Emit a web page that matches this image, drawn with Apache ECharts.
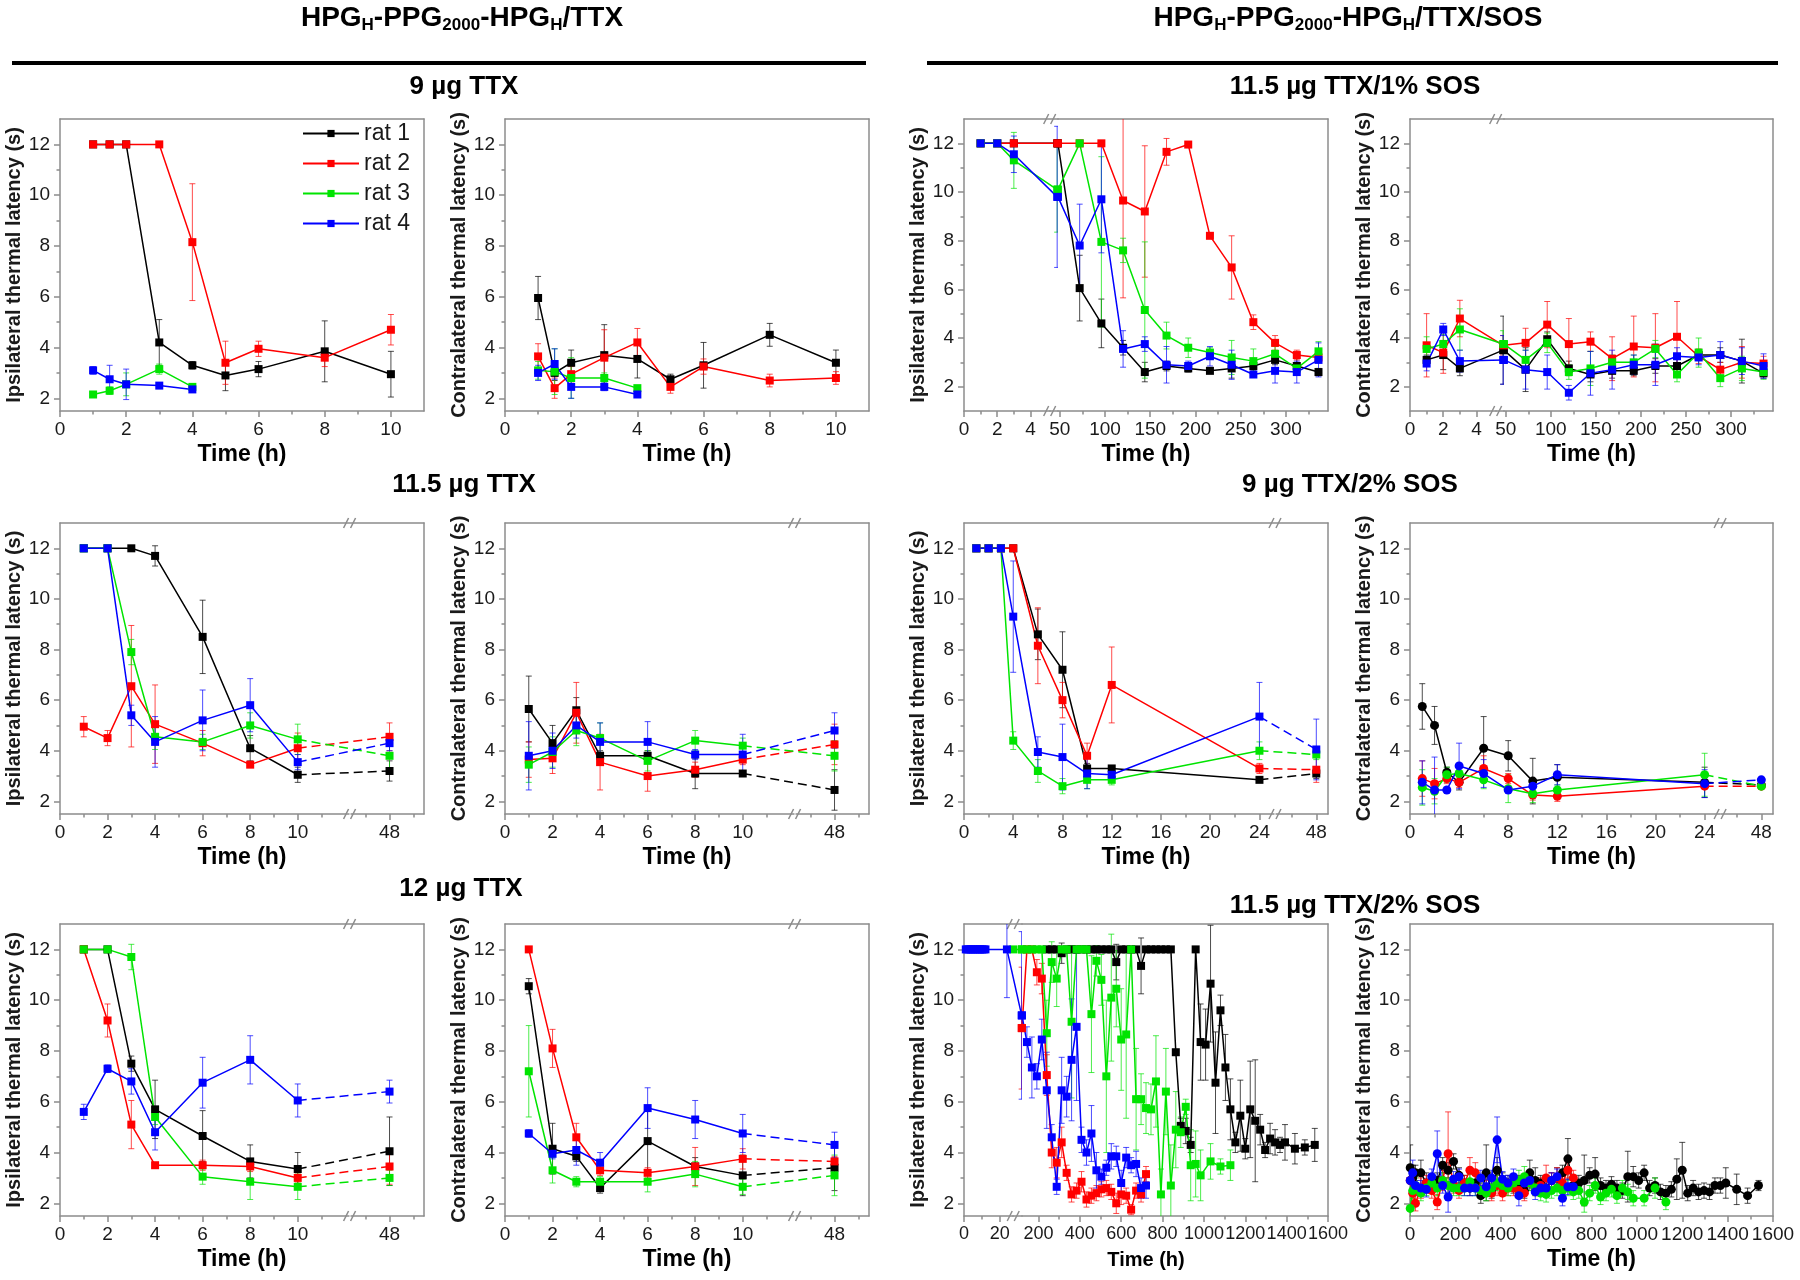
<!DOCTYPE html>
<html>
<head>
<meta charset="utf-8">
<script src="https://cdn.jsdelivr.net/npm/echarts@6.0.0/dist/echarts.min.js"></script>
<style>
  html, body { margin: 0; padding: 0; background: #fff; }
  #chart { width: 1800px; height: 1280px; }
</style>
</head>
<body>
<div id="chart"></div>
<script>
"use strict";

const FONT = "'Liberation Sans', Arial, Helvetica, sans-serif";
const GRAY = "#8c8c8c";
const INK = "#1a1a1a";
const RAT_NAMES = ["rat 1", "rat 2", "rat 3", "rat 4"];
const RAT_COLORS = ["#000000", "#ff0000", "#00e400", "#0000ff"];
const IPSI = "Ipsilateral thermal latency (s)";
const CONTRA = "Contralateral thermal latency (s)";

// ---- 9 µg TTX ----
const t9 = [1, 1.5, 2, 3, 4, 5, 6, 8, 10];
const ipsi9R1 = [12, 12, 12, 4.2, 3.3, 2.9, 3.15, 3.85, 2.95];
const ipsi9E1 = [0, 0, 0, 0.9, 0.15, 0.6, 0.3, 1.2, 0.9];
const ipsi9R2 = [12, 12, 12, 12, 8.15, 3.4, 3.95, 3.6, 4.7];
const ipsi9E2 = [0, 0, 0, 0, 2.3, 0.85, 0.3, 0.35, 0.6];
const ipsi9R3 = [2.15, 2.3, 2.55, 3.15, 2.45];
const ipsi9E3 = [0.1, 0.15, 0.45, 0.2, 0.1];
const ipsi9R4 = [3.1, 2.75, 2.55, 2.5, 2.35];
const ipsi9E4 = [0.15, 0.55, 0.6, 0.1, 0.1];
const contra9R1 = [5.95, 3.0, 3.4, 3.7, 3.55, 2.75, 3.3, 4.5, 3.4];
const contra9E1 = [0.85, 0.3, 0.5, 1.2, 0.75, 0.2, 0.9, 0.45, 0.5];
const contra9R2 = [3.65, 2.4, 2.95, 3.6, 4.2, 2.45, 3.25, 2.7, 2.8];
const contra9E2 = [0.5, 0.4, 0.3, 1.1, 0.55, 0.25, 0.3, 0.25, 0.25];
const contra9R3 = [3.1, 3.05, 2.8, 2.8, 2.4];
const contra9E3 = [0.35, 0.9, 0.8, 0.2, 0.1];
const contra9R4 = [3.0, 3.35, 2.45, 2.45, 2.15];
const contra9E4 = [0.3, 0.6, 0.45, 0.15, 0.1];

// ---- 11.5 µg TTX ----
const t115 = [1, 2, 3, 4, 6, 8, 10, 48];
const ipsi115R1 = [12, 12, 12, 11.7, 8.5, 4.1, 3.05, 3.2];
const ipsi115E1 = [0, 0, 0, 0.4, 1.45, 0.5, 0.3, 0.4];
const ipsi115R2 = [4.95, 4.5, 6.55, 5.05, 4.3, 3.45, 4.1, 4.55];
const ipsi115E2 = [0.4, 0.3, 2.4, 1.55, 0.5, 0.1, 0.6, 0.55];
const ipsi115R3 = [12, 12, 7.9, 4.55, 4.35, 5.0, 4.45, 3.8];
const ipsi115E3 = [0, 0, 0.5, 0.5, 0.3, 0.5, 0.6, 0.5];
const ipsi115R4 = [12, 12, 5.4, 4.35, 5.2, 5.8, 3.55, 4.3];
const ipsi115E4 = [0, 0, 0.4, 1.0, 1.2, 1.05, 0.3, 0.3];
const contra115R1 = [5.65, 4.3, 5.6, 3.8, 3.8, 3.1, 3.1, 2.45];
const contra115E1 = [1.3, 0.7, 0.5, 0.2, 0.2, 0.6, 0.1, 0.8];
const contra115R2 = [3.65, 3.7, 5.5, 3.55, 3.0, 3.25, 3.65, 4.25];
const contra115E2 = [0.7, 0.6, 1.2, 1.1, 0.6, 0.3, 0.2, 0.8];
const contra115R3 = [3.45, 3.95, 4.8, 4.5, 3.6, 4.4, 4.2, 3.8];
const contra115E3 = [0.7, 0.6, 0.6, 0.6, 0.4, 0.4, 0.3, 0.6];
const contra115R4 = [3.8, 4.0, 5.0, 4.35, 4.35, 3.85, 3.85, 4.8];
const contra115E4 = [1.35, 0.7, 0.5, 0.75, 0.8, 0.2, 0.8, 0.7];

// ---- 12 µg TTX ----
const t12 = [1, 2, 3, 4, 6, 8, 10, 48];
const ipsi12R1 = [12, 12, 7.5, 5.7, 4.65, 3.65, 3.35, 4.05];
const ipsi12E1 = [0, 0, 0.3, 1.15, 1.0, 0.65, 0.65, 1.35];
const ipsi12R2 = [12, 9.2, 5.1, 3.5, 3.5, 3.45, 3.0, 3.45];
const ipsi12E2 = [0, 0.65, 0.95, 0.1, 0.2, 0.2, 0.2, 0.7];
const ipsi12R3 = [12, 12, 11.7, 5.4, 3.05, 2.85, 2.65, 3.0];
const ipsi12E3 = [0, 0, 0.5, 0.3, 0.3, 0.7, 0.5, 0.3];
const ipsi12R4 = [5.6, 7.3, 6.8, 4.8, 6.75, 7.65, 6.05, 6.4];
const ipsi12E4 = [0.3, 0.15, 0.5, 0.7, 1.0, 0.95, 0.65, 0.45];
const contra12R1 = [10.55, 4.15, 3.85, 2.6, 4.45, 3.45, 3.1, 3.4];
const contra12E1 = [0.3, 1.0, 0.2, 0.2, 1.2, 0.35, 0.8, 0.9];
const contra12R2 = [12, 8.1, 4.6, 3.3, 3.2, 3.45, 3.75, 3.65];
const contra12E2 = [0.1, 0.75, 0.55, 0.2, 0.2, 0.75, 0.4, 0.2];
const contra12R3 = [7.2, 3.3, 2.85, 2.85, 2.85, 3.15, 2.65, 3.1];
const contra12E3 = [1.8, 0.5, 0.2, 0.2, 0.4, 0.5, 0.3, 0.8];
const contra12R4 = [4.75, 3.95, 4.1, 3.6, 5.75, 5.3, 4.75, 4.3];
const contra12E4 = [0.15, 0.2, 0.6, 0.4, 0.8, 0.75, 0.75, 0.5];

// ---- 11.5 µg TTX / 1% SOS ----
const tSos1 = [1, 2, 3, 48, 72, 96, 120, 144, 168, 192, 216, 240, 264, 288, 312, 336];
const ipsiSos1R1 = [12, 12, 12, 12, 6.05, 4.6, 3.6, 2.6, 2.85, 2.75, 2.65, 2.75, 2.85, 3.1, 2.85, 2.6];
const ipsiSos1E1 = [0, 0, 0, 0, 1.35, 1.0, 0.3, 0.4, 0.2, 0.15, 0.1, 0.4, 0.2, 0.2, 0.3, 0.15];
const ipsiSos1R2 = [12, 12, 12, 12, 12, 12, 9.65, 9.2, 11.65, 11.95, 8.2, 6.9, 4.65, 3.8, 3.3, 3.2];
const ipsiSos1E2 = [0, 0, 0, 0, 0, 0, 4.0, 2.7, 0.55, 0.1, 0.1, 1.3, 0.3, 0.3, 0.2, 0.2];
const ipsiSos1R3 = [12, 12, 11.3, 10.1, 12, 7.95, 7.6, 5.15, 4.1, 3.6, 3.4, 3.2, 3.05, 3.35, 2.75, 3.45];
const ipsiSos1E3 = [0, 0, 1.15, 1.75, 0, 3.5, 0.5, 2.8, 0.55, 0.4, 0.2, 0.7, 0.5, 0.3, 0.2, 0.4];
const ipsiSos1R4 = [12, 12, 11.55, 9.8, 7.8, 9.7, 3.55, 3.75, 2.9, 2.85, 3.25, 2.9, 2.5, 2.65, 2.6, 3.1];
const ipsiSos1E4 = [0, 0, 0.75, 2.9, 1.7, 2.2, 0.75, 0.3, 0.75, 0.2, 0.4, 0.6, 0.1, 0.5, 0.45, 0.7];
const contraSos1R1 = [3.1, 3.3, 2.75, 3.5, 2.7, 3.95, 2.75, 2.5, 2.65, 2.65, 2.85, 2.85, 3.3, 3.3, 3.05, 2.55];
const contraSos1E1 = [0.2, 0.6, 0.3, 1.4, 0.9, 0.3, 0.3, 0.3, 0.3, 0.2, 0.3, 0.3, 0.2, 0.3, 0.9, 0.2];
const contraSos1R2 = [3.7, 3.4, 4.8, 3.7, 3.8, 4.55, 3.75, 3.85, 3.15, 3.65, 3.6, 4.05, 3.25, 2.7, 3.0, 2.95];
const contraSos1E2 = [1.3, 0.85, 0.75, 0.4, 0.6, 0.95, 1.05, 0.4, 0.9, 1.25, 1.4, 1.45, 0.3, 0.3, 0.65, 0.3];
const contraSos1R3 = [3.55, 3.75, 4.35, 3.75, 3.1, 3.8, 2.6, 2.75, 3.0, 3.0, 3.55, 2.5, 3.4, 2.35, 2.75, 2.6];
const contraSos1E3 = [0.5, 0.4, 0.85, 0.55, 0.4, 0.4, 0.3, 0.7, 0.3, 0.3, 0.35, 0.3, 0.6, 0.35, 0.5, 0.3];
const contraSos1R4 = [2.95, 4.35, 3.05, 3.1, 2.7, 2.6, 1.75, 2.55, 2.7, 2.9, 2.9, 3.25, 3.2, 3.3, 3.05, 2.85];
const contraSos1E4 = [0.3, 0.25, 0.45, 1.0, 0.8, 0.7, 0.3, 0.9, 0.8, 0.4, 0.85, 0.35, 0.3, 0.55, 0.55, 0.5];

// ---- 9 µg TTX / 2% SOS ----
const tSos2 = [1, 2, 3, 4, 6, 8, 10, 12, 24, 48];
const ipsiSos2R1 = [12, 12, 12, 12, 8.6, 7.2, 3.3, 3.3, 2.85, 3.1];
const ipsiSos2E1 = [0, 0, 0, 0, 1.0, 1.5, 0.2, 0.1, 0.1, 0.2];
const ipsiSos2R2 = [12, 12, 12, 12, 8.15, 6.0, 3.8, 6.6, 3.3, 3.25];
const ipsiSos2E2 = [0, 0, 0, 0, 1.5, 0.7, 0.5, 1.5, 0.2, 0.5];
const ipsiSos2R3 = [12, 12, 12, 4.4, 3.2, 2.6, 2.85, 2.85, 4.0, 3.85];
const ipsiSos2E3 = [0, 0, 0, 0.35, 0.45, 0.3, 0.35, 0.2, 0.35, 0.2];
const ipsiSos2R4 = [12, 12, 12, 9.3, 3.95, 3.75, 3.1, 3.05, 5.35, 4.05];
const ipsiSos2E4 = [0, 0, 0, 2.2, 0.6, 1.3, 0.6, 0.2, 1.35, 1.2];
const contraSos2R1 = [5.75, 5.0, 3.15, 2.75, 4.1, 3.8, 2.8, 2.95, 2.75, 2.65];
const contraSos2E1 = [0.9, 0.75, 0.2, 0.3, 1.25, 0.6, 0.9, 0.5, 0.6, 0.1];
const contraSos2R2 = [2.9, 2.7, 2.9, 2.75, 3.3, 2.9, 2.25, 2.2, 2.6, 2.6];
const contraSos2E2 = [0.7, 0.6, 0.2, 0.2, 0.5, 0.2, 0.2, 0.2, 0.1, 0.1];
const contraSos2R3 = [2.55, 2.4, 3.05, 3.1, 2.85, 2.5, 2.3, 2.45, 3.05, 2.6];
const contraSos2E3 = [0.7, 0.5, 0.3, 0.4, 0.35, 0.55, 0.35, 0.2, 0.85, 0.1];
const contraSos2R4 = [2.75, 2.45, 2.45, 3.4, 3.1, 2.45, 2.6, 3.05, 2.7, 2.85];
const contraSos2E4 = [0.85, 1.3, 0.1, 0.9, 0.55, 0.1, 0.2, 0.4, 0.55, 0.1];

// ---- 11.5 µg TTX / 2% SOS, ipsilateral (long follow-up) ----
const ipsiLongT1 = [240, 264, 288, 312, 336, 360, 384, 408, 432, 456, 480, 504, 528, 552, 576, 600, 624, 648, 672, 696, 720, 744, 768, 792, 816, 840,
  864, 888, 912, 936, 960, 984, 1008, 1032, 1056, 1080, 1104, 1128, 1152, 1176, 1200, 1224, 1248, 1272, 1296, 1320, 1344, 1368, 1392, 1440, 1488, 1536];
const ipsiLongR1 = [12, 12, 12, 11.85, 12, 12, 12, 12, 12, 12, 12, 12, 12, 12, 11.5, 12, 12, 12, 12, 11.35, 12, 12, 12, 12, 12, 12,
  7.95, 5.05, 4.85, 4.3, 12, 8.35, 8.25, 10.65, 6.75, 9.6, 7.35, 5.7, 4.4, 5.45, 4.15, 5.7, 5.25, 4.9, 4.1, 4.55, 4.4, 4.3, 4.4, 4.15, 4.2, 4.3];
const ipsiLongE1 = [0, 0, 0, 0.4, 0, 0, 0, 0, 0, 0, 0, 0, 0, 0, 0.7, 0, 0, 0, 0, 1.1, 0, 0, 0, 0, 0, 0,
  0, 0.3, 0.5, 0.3, 0, 1.5, 1.4, 2.3, 2.0, 0.6, 1.3, 1.2, 0.4, 1.4, 0.4, 1.9, 2.4, 0.6, 0.3, 0.6, 0.5, 0.3, 0.7, 0.6, 0.3, 0.65];
const ipsiLongT2 = [120, 144, 168, 192, 216, 240, 264, 288, 312, 336, 360, 384, 408, 432, 456, 480, 504, 528, 552, 576, 600, 624, 648, 672, 696, 720];
const ipsiLongR2 = [8.9, 12, 12, 11.1, 10.85, 7.05, 4.0, 3.6, 4.4, 3.2, 2.35, 2.5, 2.85, 2.15, 2.3, 2.4, 2.55, 2.6, 2.45, 2.0, 2.35, 2.3, 1.75, 2.5, 2.35, 3.15];
const ipsiLongE2 = [2.4, 0, 0, 0.5, 0.6, 0.8, 0.6, 0.6, 0.6, 0.3, 0.3, 0.3, 0.4, 0.3, 0.3, 0.3, 0.3, 0.3, 0.3, 0.4, 0.4, 0.3, 0.2, 0.3, 0.3, 0.3];
const ipsiLongT3 = [96, 120, 144, 168, 192, 216, 240, 264, 288, 312, 336, 360, 384, 408, 432, 456, 480, 504, 528, 552, 576, 600, 624, 648, 672, 696,
  720, 744, 768, 792, 816, 840, 864, 888, 912, 936, 960, 984, 1032, 1080, 1128];
const ipsiLongR3 = [12, 12, 12, 12, 12, 12, 8.7, 11.5, 10.85, 12, 12, 9.15, 12, 12, 12, 9.45, 11.55, 10.8, 7.0, 10.1, 10.45, 8.45, 8.65, 12, 6.1, 6.1,
  5.75, 5.7, 6.8, 2.35, 6.4, 2.7, 4.9, 4.8, 5.8, 3.5, 3.55, 3.1, 3.65, 3.45, 3.5];
const ipsiLongE3 = [0, 0, 0, 0, 0, 0, 1.3, 0.8, 1.1, 0, 0, 3.0, 0, 0, 0, 2.3, 0.6, 1.0, 3.0, 2.5, 1.5, 2.0, 3.3, 0, 2.0, 1.0,
  1.0, 1.0, 1.8, 1.0, 1.7, 1.6, 1.5, 0.6, 0.3, 1.4, 1.3, 1.0, 0.7, 0.3, 0.6];
const ipsiLongT4 = [1, 2, 3, 4, 5, 6, 7, 8, 9, 10, 11, 12, 24, 120, 144, 168, 192, 216, 240, 264, 288, 312, 336, 360, 384, 408,
  432, 456, 480, 504, 528, 552, 576, 600, 624, 648, 672, 696, 720];
const ipsiLongR4 = [12, 12, 12, 12, 12, 12, 12, 12, 12, 12, 12, 12, 12, 9.4, 8.35, 7.35, 7.0, 8.45, 6.45, 4.6, 2.65, 6.45, 6.2, 7.65, 8.95, 4.5,
  4.0, 4.75, 3.3, 3.05, 3.4, 3.85, 3.85, 2.8, 3.8, 3.5, 3.55, 2.6, 2.7];
const ipsiLongE4 = [0, 0, 0, 0, 0, 0, 0, 0, 0, 0, 0, 0, 1.9, 3.3, 0.6, 1.2, 0.5, 0.8, 1.5, 0.5, 0.3, 1.3, 0.8, 2.4, 2.9, 0.5,
  0.5, 1.1, 0.7, 0.3, 0.3, 0.5, 0.4, 0.5, 0.4, 0.3, 0.5, 0.4, 0.5];

// ---- 11.5 µg TTX / 2% SOS, contralateral (long follow-up) ----
const contraLongT1 = [1, 12, 24, 48, 72, 96, 120, 144, 168, 192, 216, 240, 264, 288, 312, 336, 360, 384, 408, 432, 456, 480,
  504, 528, 552, 576, 600, 624, 648, 672, 696, 720, 744, 768, 792, 816, 840, 864, 888, 912, 936, 960,
  984, 1008, 1032, 1056, 1080, 1104, 1128, 1152, 1176, 1200, 1224, 1248, 1272, 1296, 1320, 1344, 1368, 1392, 1440, 1488, 1536];
const contraLongR1 = [3.4, 3.0, 3.2, 3.2, 2.8, 2.7, 2.9, 3.5, 3.3, 3.65, 3.1, 2.8, 2.6, 2.8, 2.3, 3.2, 2.5, 3.3, 2.9, 2.8, 2.7, 2.8,
  2.5, 3.2, 2.9, 2.8, 2.6, 2.9, 3.0, 3.2, 3.75, 2.7, 2.8, 2.9, 3.1, 3.15, 2.7, 2.6, 2.75, 2.6, 2.5, 3.05,
  3.05, 2.9, 3.2, 2.6, 2.7, 2.45, 2.4, 2.55, 2.95, 3.3, 2.4, 2.6, 2.45, 2.5, 2.45, 2.7, 2.7, 2.8, 2.55, 2.3, 2.7];
const contraLongE1 = [0.9, 0.5, 0.3, 0.5, 0.4, 0.3, 0.3, 0.3, 0.3, 0.3, 0.3, 0.3, 0.3, 0.3, 0.3, 1.1, 0.3, 0.5, 0.3, 0.3, 0.3, 0.3,
  0.3, 0.5, 0.5, 0.3, 0.3, 0.3, 0.4, 0.3, 0.8, 0.3, 0.3, 1.0, 0.3, 0.65, 0.3, 0.3, 0.3, 0.3, 0.3, 1.0,
  0.4, 0.3, 0.3, 0.3, 0.3, 0.3, 0.3, 0.3, 0.8, 1.1, 0.3, 0.3, 0.3, 0.3, 0.3, 0.3, 0.3, 0.6, 0.6, 0.3, 0.2];
const contraLongT24 = [1, 12, 24, 48, 72, 96, 120, 144, 168, 192, 216, 240, 264, 288, 312, 336, 360, 384, 408, 432, 456, 480,
  504, 528, 552, 576, 600, 624, 648, 672, 696, 720];
const contraLongR2 = [2.9, 2.4, 2.0, 2.6, 2.8, 2.5, 2.05, 2.9, 3.95, 2.7, 2.5, 2.8, 3.3, 3.2, 2.5, 2.6, 2.4, 2.7, 2.4, 2.6, 2.6, 2.5,
  2.4, 2.8, 2.6, 2.7, 3.0, 2.9, 3.0, 2.8, 3.3, 3.0];
const contraLongE2 = [0.5, 0.4, 0.3, 0.4, 0.3, 0.3, 0.3, 0.4, 1.65, 0.3, 0.3, 0.3, 0.5, 0.4, 0.3, 0.3, 0.3, 0.4, 0.3, 0.3, 0.3, 0.3,
  0.3, 0.3, 0.3, 0.3, 0.5, 0.3, 0.4, 0.3, 0.3, 0.3];
const contraLongT3 = [1, 12, 24, 48, 72, 96, 120, 144, 168, 192, 216, 240, 264, 288, 312, 336, 360, 384, 408, 432, 456, 480,
  504, 528, 552, 576, 600, 624, 648, 672, 696, 720, 744, 768, 792, 816, 840, 864, 888, 912, 936, 960, 984, 1032, 1080, 1128];
const contraLongR3 = [1.8, 2.5, 2.7, 2.4, 2.6, 2.8, 2.6, 2.9, 2.7, 2.6, 2.6, 2.6, 2.85, 2.6, 2.5, 2.4, 2.6, 2.8, 2.7, 2.6, 2.8, 2.9,
  3.05, 2.8, 2.6, 2.4, 2.35, 2.5, 2.6, 2.5, 2.6, 2.45, 2.5, 2.05, 2.4, 2.7, 2.25, 2.4, 2.55, 2.3, 2.6, 2.45, 2.2, 2.2, 2.6, 2.05];
const contraLongE3 = [0.5, 0.3, 0.3, 0.3, 0.3, 0.3, 0.3, 0.3, 0.3, 0.3, 0.3, 0.3, 0.3, 0.3, 0.3, 0.3, 0.3, 0.3, 0.3, 0.3, 0.3, 0.4,
  0.4, 0.3, 0.3, 0.3, 0.3, 0.3, 0.3, 0.3, 0.3, 0.3, 0.3, 0.4, 0.3, 0.3, 0.3, 0.3, 0.3, 0.3, 0.3, 0.3, 0.3, 0.3, 0.4, 0.3];
const contraLongR4 = [2.9, 3.2, 2.7, 2.6, 2.55, 3.05, 3.95, 2.7, 2.25, 2.95, 3.05, 2.6, 2.6, 2.6, 3.0, 2.65, 3.0, 4.5, 2.95, 2.8, 3.05, 2.3,
  2.8, 2.9, 2.45, 2.6, 2.6, 2.9, 3.05, 2.2, 2.65, 2.65];
const contraLongE4 = [0.6, 0.5, 0.4, 0.3, 0.3, 0.3, 0.9, 0.3, 0.6, 0.3, 0.3, 0.3, 0.3, 0.3, 0.3, 0.3, 0.3, 0.9, 0.3, 0.3, 0.3, 0.4,
  0.3, 0.3, 0.3, 0.3, 0.3, 0.3, 0.3, 0.3, 0.3, 0.3];

// ---- axis tick sets ----
const Y_TICKS = [2, 4, 6, 8, 10, 12];
const Y_MINOR = [3, 5, 7, 9, 11];
const X_10 = { min: 0, max: 11, major: [0, 2, 4, 6, 8, 10], minor: [1, 3, 5, 7, 9] };
// same scale on both sides of the break: one axis with a library break,
// and the segment that jumps the break is dashed like in the original
const X_48 = { min: 0, max: 49.45, breaks: [{ start: 12.15, end: 46.35, gap: "0.4%" }], dashAcross: true,
  major: [0, 2, 4, 6, 8, 10, 48], minor: [1, 3, 5, 7, 9, 11, 47, 49] };
const X_24_48 = { min: 0, max: 48.95, breaks: [{ start: 25.2, end: 44.7, gap: "0.4%" }], dashAcross: true,
  major: [0, 4, 8, 12, 16, 20, 24, 48], minor: [2, 6, 10, 14, 18, 22, 46] };
// different scales on the two sides: two adjoining grids, the left one
// carrying the break up to the first point of the right one
const X_336_A = { min: 0, max: 48.05, breaks: [{ start: 5.15, end: 47.55, gap: "0.1%" }], major: [0, 2, 4], minor: [1, 3] };
const X_336_B = { min: 48.05, max: 346.5, major: [50, 100, 150, 200, 250, 300], minor: [75, 125, 175, 225, 275, 325] };
const X_1600_A = { min: 0, max: 120.2, breaks: [{ start: 27.5, end: 115.3, gap: "0.1%" }], major: [0, 20], minor: [10], fontSize: 18 };
const X_1600_B = { min: 120.2, max: 1600, major: [200, 400, 600, 800, 1000, 1200, 1400, 1600],
  minor: [300, 500, 700, 900, 1100, 1300, 1500], fontSize: 18 };
const X_1600 = { min: 0, max: 1600, major: [0, 200, 400, 600, 800, 1000, 1200, 1400, 1600],
  minor: [100, 300, 500, 700, 900, 1100, 1300, 1500] };
const Y_15 = { min: 1.5, max: 13 };
const Y_1 = { min: 1, max: 13 };

// ---- page layout (px) ----
const COLS = [[60, 424], [505, 869], [964, 1328], [1410, 1773]];
const ROWS = [[119, 411], [523, 814], [924, 1216]];

const PANELS = [
  { col: 0, row: 0, x: X_10, y: Y_15, yName: IPSI, symbol: "rect",
    times: [t9, t9, t9, t9], vals: [ipsi9R1, ipsi9R2, ipsi9R3, ipsi9R4], errs: [ipsi9E1, ipsi9E2, ipsi9E3, ipsi9E4] },
  { col: 1, row: 0, x: X_10, y: Y_15, yName: CONTRA, symbol: "rect",
    times: [t9, t9, t9, t9], vals: [contra9R1, contra9R2, contra9R3, contra9R4], errs: [contra9E1, contra9E2, contra9E3, contra9E4] },
  { col: 0, row: 1, x: X_48, y: Y_15, yName: IPSI, symbol: "rect",
    times: [t115, t115, t115, t115], vals: [ipsi115R1, ipsi115R2, ipsi115R3, ipsi115R4], errs: [ipsi115E1, ipsi115E2, ipsi115E3, ipsi115E4] },
  { col: 1, row: 1, x: X_48, y: Y_15, yName: CONTRA, symbol: "rect",
    times: [t115, t115, t115, t115], vals: [contra115R1, contra115R2, contra115R3, contra115R4], errs: [contra115E1, contra115E2, contra115E3, contra115E4] },
  { col: 0, row: 2, x: X_48, y: Y_15, yName: IPSI, symbol: "rect",
    times: [t12, t12, t12, t12], vals: [ipsi12R1, ipsi12R2, ipsi12R3, ipsi12R4], errs: [ipsi12E1, ipsi12E2, ipsi12E3, ipsi12E4] },
  { col: 1, row: 2, x: X_48, y: Y_15, yName: CONTRA, symbol: "rect",
    times: [t12, t12, t12, t12], vals: [contra12R1, contra12R2, contra12R3, contra12R4], errs: [contra12E1, contra12E2, contra12E3, contra12E4] },
  { col: 2, row: 0, x: [X_336_A, X_336_B], split: 94, y: Y_1, yName: IPSI, symbol: "rect",
    times: [tSos1, tSos1, tSos1, tSos1], vals: [ipsiSos1R1, ipsiSos1R2, ipsiSos1R3, ipsiSos1R4], errs: [ipsiSos1E1, ipsiSos1E2, ipsiSos1E3, ipsiSos1E4] },
  { col: 3, row: 0, x: [X_336_A, X_336_B], split: 94, y: Y_1, yName: CONTRA, symbol: "rect",
    times: [tSos1, tSos1, tSos1, tSos1], vals: [contraSos1R1, contraSos1R2, contraSos1R3, contraSos1R4], errs: [contraSos1E1, contraSos1E2, contraSos1E3, contraSos1E4] },
  { col: 2, row: 1, x: X_24_48, y: Y_15, yName: IPSI, symbol: "rect",
    times: [tSos2, tSos2, tSos2, tSos2], vals: [ipsiSos2R1, ipsiSos2R2, ipsiSos2R3, ipsiSos2R4], errs: [ipsiSos2E1, ipsiSos2E2, ipsiSos2E3, ipsiSos2E4] },
  { col: 3, row: 1, x: X_24_48, y: Y_15, yName: CONTRA, symbol: "circle",
    times: [tSos2, tSos2, tSos2, tSos2], vals: [contraSos2R1, contraSos2R2, contraSos2R3, contraSos2R4], errs: [contraSos2E1, contraSos2E2, contraSos2E3, contraSos2E4] },
  { col: 2, row: 2, x: [X_1600_A, X_1600_B], split: 58, y: Y_15, yName: IPSI, symbol: "rect", xNameSize: 20,
    times: [ipsiLongT1, ipsiLongT2, ipsiLongT3, ipsiLongT4], vals: [ipsiLongR1, ipsiLongR2, ipsiLongR3, ipsiLongR4], errs: [ipsiLongE1, ipsiLongE2, ipsiLongE3, ipsiLongE4] },
  { col: 3, row: 2, x: X_1600, y: Y_15, yName: CONTRA, symbol: "circle",
    times: [contraLongT1, contraLongT24, contraLongT3, contraLongT24], vals: [contraLongR1, contraLongR2, contraLongR3, contraLongR4], errs: [contraLongE1, contraLongE2, contraLongE3, contraLongE4] },
];

const option = {
  animation: false,
  backgroundColor: "#ffffff",
  textStyle: { fontFamily: FONT },
  grid: [], xAxis: [], yAxis: [], series: [], graphic: [],
  legend: {
    data: RAT_NAMES, orient: "vertical", left: 297, top: 117,
    itemWidth: 56, itemHeight: 9, itemGap: 7, selectedMode: false,
    textStyle: { fontSize: 23, color: INK, fontFamily: FONT },
  },
};
const decor = [];
const breakSpots = [];
const lineStyleGray = { color: GRAY, width: 1.5 };
const plainNumber = (v) => String(v);

function bareAxis(extra) {
  return Object.assign({
    type: "value", splitLine: { show: false }, axisLine: { show: false },
    axisTick: { show: false }, axisLabel: { show: false },
  }, extra);
}

function addGrid(l, r, t, b) {
  option.grid.push({ left: l, top: t, width: r - l, height: b - t, show: false, containLabel: false, outerBoundsMode: "none" });
  return option.grid.length - 1;
}

function addXAxes(gi, xs) {
  const scale = { gridIndex: gi, min: xs.min, max: xs.max };
  if (xs.breaks) { scale.breaks = xs.breaks; scale.breakArea = { show: false }; }
  const main = option.xAxis.length;
  option.xAxis.push(bareAxis(Object.assign({}, scale, {
    position: "bottom",
    axisLine: { show: true, onZero: false, lineStyle: lineStyleGray },
    axisTick: { show: true, length: 6, customValues: xs.major, lineStyle: lineStyleGray },
    axisLabel: { show: true, customValues: xs.major, margin: 9, color: INK, fontSize: xs.fontSize || 19, fontFamily: FONT,
      formatter: plainNumber, showMinLabel: true, showMaxLabel: true, hideOverlap: false },
  })));
  option.xAxis.push(bareAxis(Object.assign({}, scale, {
    position: "bottom",
    axisTick: { show: true, length: 3.5, customValues: xs.minor, lineStyle: lineStyleGray },
  })));
  option.xAxis.push(bareAxis({ gridIndex: gi, min: 0, max: 1, position: "top",
    axisLine: { show: true, onZero: false, lineStyle: lineStyleGray } }));
  return main;
}

function addYAxes(gi, ys, name, rightFrame) {
  const main = option.yAxis.length;
  if (name) {
    option.yAxis.push(bareAxis({
      gridIndex: gi, min: ys.min, max: ys.max, position: "left",
      name: name, nameLocation: "middle", nameGap: 36,
      nameTextStyle: { fontSize: 20, fontWeight: "bold", color: INK, fontFamily: FONT },
      axisLine: { show: true, onZero: false, lineStyle: lineStyleGray },
      axisTick: { show: true, length: 6, customValues: Y_TICKS, lineStyle: lineStyleGray },
      axisLabel: { show: true, customValues: Y_TICKS, margin: 10, color: INK, fontSize: 19, fontFamily: FONT, formatter: plainNumber },
    }));
    option.yAxis.push(bareAxis({
      gridIndex: gi, min: ys.min, max: ys.max, position: "left",
      axisTick: { show: true, length: 3.5, customValues: Y_MINOR, lineStyle: lineStyleGray },
    }));
  } else {
    option.yAxis.push(bareAxis({ gridIndex: gi, min: ys.min, max: ys.max, position: "left" }));
  }
  if (rightFrame) {
    option.yAxis.push(bareAxis({ gridIndex: gi, min: 0, max: 1, position: "right",
      axisLine: { show: true, onZero: false, lineStyle: lineStyleGray } }));
  }
  return main;
}

function errorBar(color) {
  return function (params, api) {
    const x = api.value(0);
    const lo = api.coord([x, api.value(1)]);
    const hi = api.coord([x, api.value(2)]);
    const w = 3;
    const st = { stroke: color, lineWidth: 1, opacity: 0.7 };
    return { type: "group", children: [
      { type: "line", shape: { x1: lo[0], y1: lo[1], x2: hi[0], y2: hi[1] }, style: st },
      { type: "line", shape: { x1: lo[0] - w, y1: lo[1], x2: lo[0] + w, y2: lo[1] }, style: st },
      { type: "line", shape: { x1: hi[0] - w, y1: hi[1], x2: hi[0] + w, y2: hi[1] }, style: st },
    ] };
  };
}

function addRat(xi, yi, xs, times, vals, errs, k, symbol) {
  const pts = [], bars = [];
  let bridge = null;
  const brk = xs.dashAcross ? xs.breaks[0] : null;
  times.forEach((t, i) => {
    const v = vals[i];
    if (v == null) return;
    if (brk && pts.length && pts[pts.length - 1][0] <= brk.start && t >= brk.end) {
      bridge = [pts[pts.length - 1].slice(), [t, v]];
      pts.push(["-", "-"]);
    }
    pts.push([t, v]);
    const e = errs ? errs[i] : 0;
    if (e && t >= xs.min && t <= xs.max) bars.push([t, v - e, v + e]);
  });
  const color = RAT_COLORS[k];
  option.series.push({
    type: "custom", name: "err", xAxisIndex: xi, yAxisIndex: yi, clip: true, silent: true, z: 2,
    data: bars, encode: { x: 0, y: [1, 2] }, renderItem: errorBar(color),
  });
  if (bridge) {
    option.series.push({
      type: "line", name: "bridge", xAxisIndex: xi, yAxisIndex: yi, data: bridge, z: 3,
      symbol: "none", clip: true, silent: true,
      lineStyle: { color: color, width: 1.5, type: [9, 5] }, emphasis: { disabled: true },
    });
  }
  option.series.push({
    type: "line", name: RAT_NAMES[k], xAxisIndex: xi, yAxisIndex: yi, data: pts, z: 3,
    symbol: symbol, symbolSize: symbol === "circle" ? 9 : 8, clip: true, silent: true, connectNulls: false,
    lineStyle: { color: color, width: 1.5 }, itemStyle: { color: color },
    emphasis: { disabled: true },
  });
}

function breakMark(x, y) {
  const st = { stroke: GRAY, lineWidth: 1.5 };
  return { type: "group", z: 100, children: [
    { type: "rect", shape: { x: x - 4, y: y - 2.5, width: 8, height: 5 }, style: { fill: "#ffffff" } },
    { type: "line", shape: { x1: x - 6, y1: y + 5, x2: x - 1, y2: y - 5 }, style: st },
    { type: "line", shape: { x1: x + 1, y1: y + 5, x2: x + 6, y2: y - 5 }, style: st },
  ] };
}

function label(text, x, y, size, rich) {
  const style = { text: text, x: x, y: y, fontSize: size, fontWeight: "bold", fontFamily: FONT,
    fill: "#000000", align: "center", verticalAlign: "middle" };
  if (rich) style.rich = rich;
  return { type: "text", z: 50, style: style };
}

PANELS.forEach((p) => {
  const [x0, x1] = COLS[p.col];
  const [y0, y1] = ROWS[p.row];
  const parts = p.split ? [[x0, x0 + p.split, p.x[0]], [x0 + p.split, x1, p.x[1]]] : [[x0, x1, p.x]];
  parts.forEach(([l, r, xs], idx) => {
    const gi = addGrid(l, r, y0, y1);
    const xi = addXAxes(gi, xs);
    const yi = addYAxes(gi, p.y, idx === 0 ? p.yName : null, idx === parts.length - 1);
    for (let k = 0; k < 4; k++) addRat(xi, yi, xs, p.times[k], p.vals[k], p.errs[k], k, p.symbol);
    if (xs.breaks) breakSpots.push({ xi: xi, start: xs.breaks[0].start, end: xs.breaks[0].end, top: y0, bottom: y1 });
  });
  decor.push(label("Time (h)", (x0 + x1) / 2, y1 + 44, p.xNameSize || 23));
});

// headings, rules and panel titles
const SUB = { s: { fontSize: 17, fontWeight: "bold", fontFamily: FONT, padding: [15, 0, 0, 0] } };
decor.push(label("HPG{s|H}-PPG{s|2000}-HPG{s|H}/TTX", 462, 18, 28, SUB));
decor.push(label("HPG{s|H}-PPG{s|2000}-HPG{s|H}/TTX/SOS", 1348, 18, 28, SUB));
decor.push({ type: "line", shape: { x1: 12, y1: 63, x2: 866, y2: 63 }, style: { stroke: "#000", lineWidth: 4 } });
decor.push({ type: "line", shape: { x1: 927, y1: 63, x2: 1778, y2: 63 }, style: { stroke: "#000", lineWidth: 4 } });
decor.push(label("9 µg TTX", 464, 87, 26));
decor.push(label("11.5 µg TTX/1% SOS", 1355, 87, 26));
decor.push(label("11.5 µg TTX", 464, 485, 26));
decor.push(label("9 µg TTX/2% SOS", 1350, 485, 26));
decor.push(label("12 µg TTX", 461, 889, 26));
decor.push(label("11.5 µg TTX/2% SOS", 1355, 906, 26));

option.graphic = decor;

const chart = echarts.init(document.getElementById("chart"), null, { renderer: "canvas" });
chart.setOption(option);

// "//" marks where the axes are broken
const marks = [];
breakSpots.forEach((b) => {
  const a = chart.convertToPixel({ xAxisIndex: b.xi }, b.start);
  const c = chart.convertToPixel({ xAxisIndex: b.xi }, b.end);
  if (isFinite(a) && isFinite(c)) {
    const x = (a + c) / 2;
    marks.push(breakMark(x, b.top), breakMark(x, b.bottom));
  }
});
chart.setOption({ graphic: decor.concat(marks) });
</script>
</body>
</html>
